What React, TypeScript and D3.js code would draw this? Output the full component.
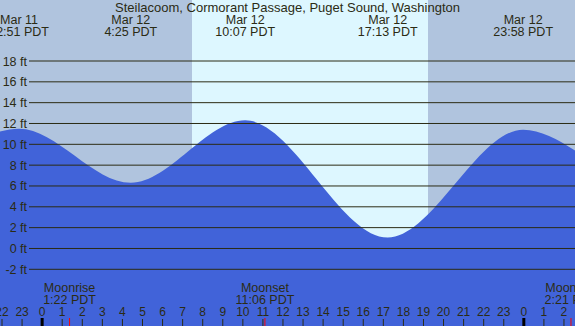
import React from "react";
import { scaleLinear, area, curveMonotoneX, range } from "d3";

// hours counted from Mar 12 00:00 PDT; first and last two points lie off the chart
const tideHours = [-8.0, -1.15, 4.417, 10.117, 17.217, 23.967, 30.1, 36.0];
const tideFeet = [1.5, 11.5, 6.3, 12.3, 1.05, 11.4, 6.2, 12.0];
const tideDays = ["Mar 11", "Mar 11", "Mar 12", "Mar 12", "Mar 12", "Mar 12", "Mar 13", "Mar 13"];
const tideTimes = ["16:00 PDT", "22:51 PDT", "4:25 PDT", "10:07 PDT", "17:13 PDT", "23:58 PDT", "6:06 PDT", "12:00 PDT"];

const sunrise = 7.466;
const sunset = 19.225;

const moonNames = ["Moonrise", "Moonset", "Moonrise"];
const moonTimes = ["1:22 PDT", "11:06 PDT", "2:21 PDT"];
const moonHours = [1 + 22 / 60, 11 + 6 / 60, 26 + 21 / 60];

const feetTicks = [18, 16, 14, 12, 10, 8, 6, 4, 2, 0, -2];

const title = "Steilacoom, Cormorant Passage, Puget Sound, Washington";

const W = 575;
const H = 326;
const font = "'Liberation Sans', Arial, sans-serif";
const ink = "#2b2b14";

const App: React.FC = () => {
  const xScale = scaleLinear().domain([-2.1, 26.55]).range([0, W]);
  const yScale = scaleLinear().domain([-2, 18]).range([269.3, 61]);

  const tide = tideHours.map((h, i) => ({ h, ft: tideFeet[i] }));
  const tideArea = area<{ h: number; ft: number }>()
    .x((d) => xScale(d.h))
    .y0(H)
    .y1((d) => yScale(d.ft))
    .curve(curveMonotoneX);

  const hours = range(-2, 27);

  return (
    <svg
      width={W}
      height={H}
      style={{ position: "absolute", left: 0, top: 0, display: "block" }}
      fontFamily={font}
    >
      <rect x={0} y={0} width={W} height={H} fill="#b0c4de" />
      <rect
        x={xScale(sunrise)}
        y={0}
        width={xScale(sunset) - xScale(sunrise)}
        height={H}
        fill="#ddf7ff"
      />
      <path d={tideArea(tide) || ""} fill="#4163d9" />

      {feetTicks.map((f) => (
        <g key={`ft${f}`}>
          <line x1={29} x2={W} y1={yScale(f)} y2={yScale(f)} stroke={ink} strokeWidth={1} />
          <text x={27} y={yScale(f) + 4.5} textAnchor="end" fontSize={12.5} fill={ink}>
            {f} ft
          </text>
        </g>
      ))}

      <text x={W / 2} y={12} textAnchor="middle" fontSize={13} fill={ink}>
        {title}
      </text>

      {tide.map((d, i) =>
        xScale(d.h) > -60 && xScale(d.h) < W + 60 ? (
          <g key={`tl${i}`}>
            <text x={xScale(d.h)} y={23.5} textAnchor="middle" fontSize={12.5} fill={ink}>
              {tideDays[i]}
            </text>
            <text x={xScale(d.h)} y={36} textAnchor="middle" fontSize={12.5} fill={ink}>
              {tideTimes[i]}
            </text>
          </g>
        ) : null
      )}

      {moonHours.map((h, i) => (
        <g key={`m${i}`}>
          <text x={xScale(h)} y={291.5} textAnchor="middle" fontSize={12.5} fill={ink}>
            {moonNames[i]}
          </text>
          <text x={xScale(h)} y={304} textAnchor="middle" fontSize={12.5} fill={ink}>
            {moonTimes[i]}
          </text>
          <line x1={xScale(h)} x2={xScale(h)} y1={318} y2={H} stroke="#ff0000" strokeWidth={1} />
        </g>
      ))}

      {hours.map((h) => {
        const label = ((h % 24) + 24) % 24;
        const midnight = label === 0;
        return (
          <g key={`h${h}`}>
            <text x={xScale(h)} y={316} textAnchor="middle" fontSize={12} fill={ink}>
              {label}
            </text>
            <line
              x1={xScale(h)}
              x2={xScale(h)}
              y1={midnight ? 318 : 319}
              y2={H}
              stroke={midnight ? "#000" : ink}
              strokeWidth={midnight ? 3 : 1}
            />
          </g>
        );
      })}
    </svg>
  );
};

export default App;
